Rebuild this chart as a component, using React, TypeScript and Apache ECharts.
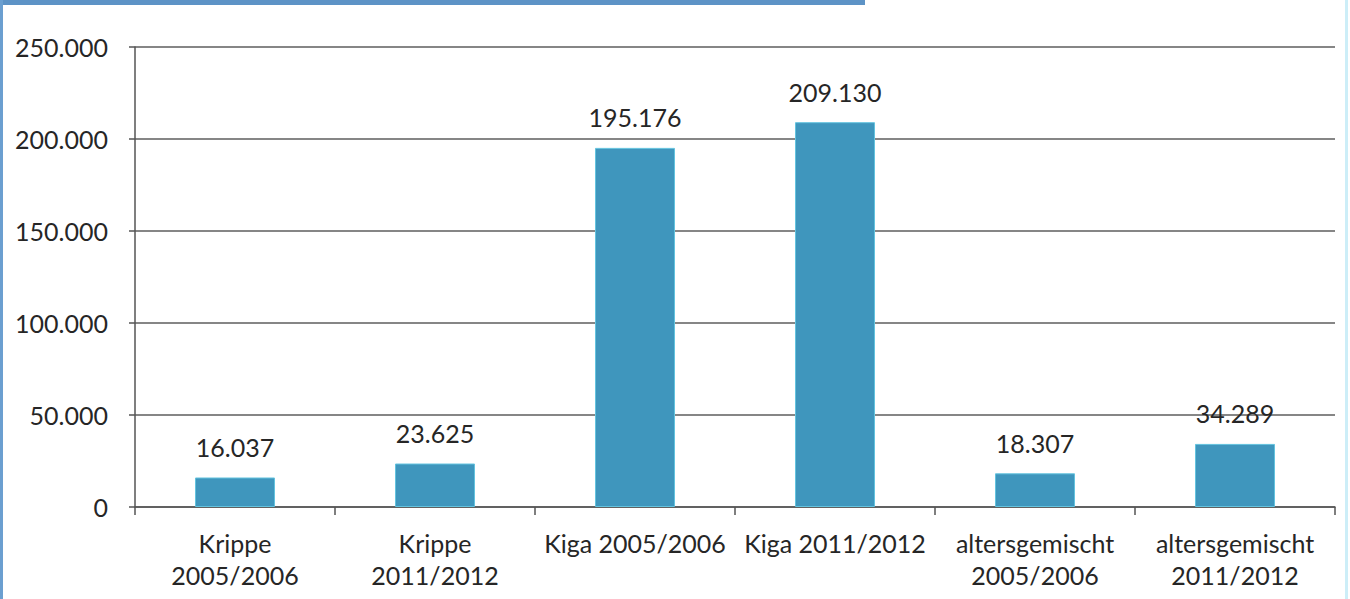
import React, { useEffect, useRef } from "react";
import * as echarts from "echarts";

const categories = [
  "Krippe\n2005/2006",
  "Krippe\n2011/2012",
  "Kiga 2005/2006",
  "Kiga 2011/2012",
  "altersgemischt\n2005/2006",
  "altersgemischt\n2011/2012",
];
const values = [16037, 23625, 195176, 209130, 18307, 34289];
const yTicks = { min: 0, max: 250000, interval: 50000 };

const fmt = (v: number) => String(Math.round(v)).replace(/\B(?=(\d{3})+(?!\d))/g, ".");

export default function App() {
  const ref = useRef<HTMLDivElement>(null);
  useEffect(() => {
    document.body.style.margin = "0";
    const chart = echarts.init(ref.current!, null, { renderer: "svg" });
    const font = "Lato, 'Open Sans', sans-serif";
    chart.setOption({
      animation: false,
      backgroundColor: "#ffffff",
      textStyle: { fontFamily: font },
      grid: { left: 135, right: 15, top: 47, bottom: 92, containLabel: false },
      xAxis: {
        type: "category",
        data: categories,
        axisLine: { show: true, lineStyle: { color: "#555", width: 1.5 } },
        axisTick: { show: true, length: 8, lineStyle: { color: "#555", width: 1.5 } },
        axisLabel: {
          color: "#262626",
          fontSize: 25,
          fontFamily: font,
          lineHeight: 32,
          margin: 20,
          interval: 0,
        },
      },
      yAxis: {
        type: "value",
        min: yTicks.min,
        max: yTicks.max,
        interval: yTicks.interval,
        axisLine: { show: true, lineStyle: { color: "#555", width: 1.5 } },
        axisTick: { show: true, length: 6, lineStyle: { color: "#555", width: 1.5 } },
        axisLabel: {
          color: "#262626",
          fontSize: 25,
          fontFamily: font,
          margin: 27,
          formatter: (v: number) => fmt(v),
        },
        splitLine: { show: true, lineStyle: { color: "#5e5e5e", width: 1.5 } },
      },
      series: [
        {
          type: "bar",
          data: values,
          barWidth: 80,
          itemStyle: { color: "#3f96bd", borderColor: "#63c3df", borderWidth: 1 },
          label: {
            show: true,
            position: "top",
            distance: 18,
            color: "#262626",
            fontSize: 25,
            fontFamily: font,
            formatter: (p: any) => fmt(p.value),
          },
        },
      ],
      graphic: [
        { type: "rect", left: 0, top: 0, shape: { width: 865, height: 5 }, style: { fill: "#5d93c6" } },
        { type: "rect", left: 0, top: 0, shape: { width: 3, height: 599 }, style: { fill: "#6b9fd0" } },
        { type: "rect", left: 1345, top: 0, shape: { width: 3, height: 599 }, style: { fill: "#cdeef8" } },
      ],
    });
    return () => chart.dispose();
  }, []);
  return <div ref={ref} style={{ width: 1350, height: 599 }} />;
}
